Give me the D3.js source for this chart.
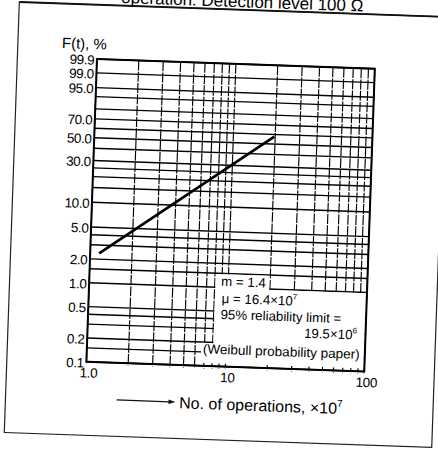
<!DOCTYPE html>
<html>
<head>
<meta charset="utf-8">
<script src="https://cdn.jsdelivr.net/npm/d3@7"></script>
<style>
  html, body { margin: 0; padding: 0; background: #fff; }
  svg { display: block; }
  text { font-family: "Liberation Sans", Arial, Helvetica, sans-serif; fill: #000; }
</style>
</head>
<body>
<svg id="chart" width="438" height="453"></svg>
<script>
// ---- data ----
const yGridLevels = [0.1, 0.15, 0.2, 0.3, 0.4, 0.5, 1, 1.5, 2, 3, 4, 5, 10, 15, 20, 25, 30, 40, 50, 60, 70, 80, 90, 95, 99, 99.9];
const yTickValues = [99.9, 99, 95, 70, 50, 30, 10, 5, 2, 1, 0.5, 0.2, 0.1];
const yTickLabels = ["99.9", "99.0", "95.0", "70.0", "50.0", "30.0", "10.0", "5.0", "2.0", "1.0", "0.5", "0.2", "0.1"];
const xGridLevels = [1, 2, 3, 4, 5, 6, 7, 8, 9, 10, 20, 30, 40, 50, 60, 70, 80, 90, 100];
const xTickValues = [1, 10, 100];
const xTickLabels = ["1.0", "10", "100"];
const lineOperations = [1.16, 19.7];     // x 10^7
const lineFailurePct = [2.37, 57.6];     // F(t), %
const legendLines = ["m = 1.4", "μ = 16.4×10", "95% reliability limit =", "19.5×10", "(Weibull probability paper)"];

// ---- layout ----
const svg = d3.select("#chart");
const g = svg.append("g").attr("transform", "rotate(2, 230.6, 215.25)");

const weib = F => Math.log(-Math.log(1 - F / 100));
const x = d3.scaleLog().domain([1, 100]).range([91.6, 369.6]);
const y = d3.scaleLinear().domain([weib(0.1), weib(99.9)]).range([366.75, 63.75]);
const yTop = y(weib(99.9)), yBot = y(weib(0.1));

// outer frame
g.append("rect").attr("x", 12).attr("y", 9.5).attr("width", 427.7).attr("height", 430.8)
  .attr("fill", "none").attr("stroke", "#222").attr("stroke-width", 1.2);
g.append("line").attr("x1", 12).attr("x2", 439.7).attr("y1", 9.5).attr("y2", 9.5)
  .attr("stroke", "#111").attr("stroke-width", 1.8);

// top caption (cut off by the image edge, as in the reference)
g.append("text").attr("x", 356).attr("y", 7).attr("text-anchor", "end")
  .style("font-size", "17px").text("operation: Detection level 100 Ω");

// vertical grid
g.append("g").selectAll("line").data(xGridLevels).join("line")
  .attr("x1", d => x(d)).attr("x2", d => x(d))
  .attr("y1", yTop).attr("y2", yBot + 2.5)
  .attr("stroke", "#000").attr("stroke-width", 1.15)
  .attr("stroke-dasharray", "10 1.3");

// horizontal grid
g.append("g").selectAll("line").data(yGridLevels).join("line")
  .attr("x1", x(1)).attr("x2", x(100))
  .attr("y1", d => y(weib(d))).attr("y2", d => y(weib(d)))
  .attr("stroke", "#000").attr("stroke-width", 1.4);

// data line
g.append("path")
  .datum(lineOperations.map((v, i) => [v, lineFailurePct[i]]))
  .attr("d", d3.line().x(d => x(d[0])).y(d => y(weib(d[1]))))
  .attr("fill", "none").attr("stroke", "#000").attr("stroke-width", 2.7);

// legend boxes (white patches on the paper)
const y1 = y(weib(1)), y15 = y(weib(1.5)), y02 = y(weib(0.2));
g.append("rect").attr("x", x(8) + 0.7).attr("y", y15 + 0.7)
  .attr("width", x(20) - x(8) - 1.4).attr("height", y1 - y15 + 0.6).attr("fill", "#fff");
g.append("rect").attr("x", x(8) + 0.7).attr("y", y1 + 0.7)
  .attr("width", x(100) - x(8) - 1.7).attr("height", yBot - 3 - y1 - 0.7).attr("fill", "#fff");
g.append("rect").attr("x", 206).attr("y", y02 + 0.7)
  .attr("width", x(8) + 1 - 206).attr("height", yBot - 3 - y02 - 0.7).attr("fill", "#fff");

// frame of the grid
g.append("rect").attr("x", x(1)).attr("y", yTop)
  .attr("width", x(100) - x(1)).attr("height", yBot - yTop)
  .attr("fill", "none").attr("stroke", "#000").attr("stroke-width", 2);

// legend text
const lg = g.append("g").style("font-size", "13.3px");
lg.append("text").attr("x", 223.5).attr("y", y1 - 1.5).text(legendLines[0]);
const mu = lg.append("text").attr("x", 224.5).attr("y", 303.2);
mu.append("tspan").text(legendLines[1]);
mu.append("tspan").attr("dy", -6).style("font-size", "8px").text("7");
lg.append("text").attr("x", 224).attr("y", 319.2).text(legendLines[2]);
const lim = lg.append("text").attr("x", 361).attr("y", 335).attr("text-anchor", "end");
lim.append("tspan").text(legendLines[3]);
lim.append("tspan").attr("dy", -6).style("font-size", "8px").text("6");
lg.append("text").attr("x", 207.5).attr("y", 354.3).attr("textLength", 157)
  .attr("lengthAdjust", "spacingAndGlyphs").text(legendLines[4]);

// y axis labels
const yAxis = d3.axisLeft(y).tickValues(yTickValues.map(weib))
  .tickFormat((d, i) => yTickLabels[i]).tickSize(0).tickPadding(2.6);
const ya = g.append("g").attr("transform", `translate(${x(1)},1)`).call(yAxis);
ya.select(".domain").remove();
ya.selectAll("text").style("font-size", "13.5px").style("letter-spacing", "-0.4px")
  .style("font-family", "'Liberation Sans', Arial, sans-serif").attr("fill", "#000");

// x axis labels
const xAxis = d3.axisBottom(x).tickValues(xTickValues)
  .tickFormat((d, i) => xTickLabels[i]).tickSize(0).tickPadding(6);
const xa = g.append("g").attr("transform", `translate(2,${yBot})`).call(xAxis);
xa.select(".domain").remove();
xa.selectAll("text").style("font-size", "13.5px").style("letter-spacing", "-0.3px")
  .style("font-family", "'Liberation Sans', Arial, sans-serif").attr("fill", "#000");

// axis titles
g.append("text").attr("x", 56).attr("y", 54).style("font-size", "15px").text("F(t), %");
g.append("line").attr("x1", 123.2).attr("x2", 176).attr("y1", 403.8).attr("y2", 403.8)
  .attr("stroke", "#111").attr("stroke-width", 1.2);
g.append("path").attr("d", "M175,401.6 L182,403.8 L175,406 Z").attr("fill", "#111");
const xt = g.append("text").attr("x", 185.8).attr("y", 410).style("font-size", "16px");
xt.append("tspan").text("No. of operations, ×10");
xt.append("tspan").attr("dy", -7).style("font-size", "10px").text("7");
</script>
</body>
</html>
